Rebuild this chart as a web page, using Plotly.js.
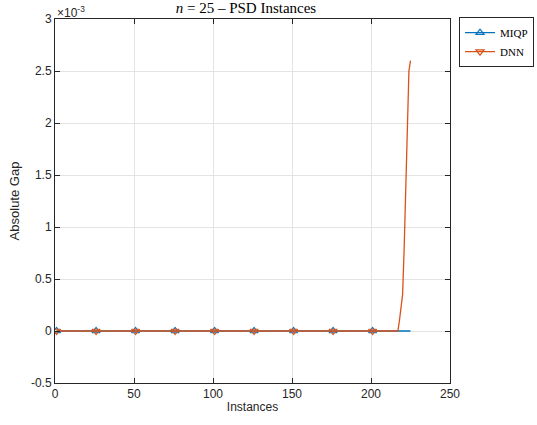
<!DOCTYPE html>
<html>
<head>
<meta charset="utf-8">
<script src="https://cdn.plot.ly/plotly-3.0.1.min.js"></script>
<style>html,body{margin:0;padding:0;background:#fff;}#chart{width:537px;height:425px;}</style>
</head>
<body>
<div id="chart"></div>
<script>
// Absolute gap per instance (sorted), n = 25 PSD instances
const seriesNames = ['MIQP', 'DNN'];
const miqpGap = [
0,0,0,0,0,0,0,0,0,0,0,0,0,0,0,0,0,0,0,0,0,0,0,0,0,
0,0,0,0,0,0,0,0,0,0,0,0,0,0,0,0,0,0,0,0,0,0,0,0,0,
0,0,0,0,0,0,0,0,0,0,0,0,0,0,0,0,0,0,0,0,0,0,0,0,0,
0,0,0,0,0,0,0,0,0,0,0,0,0,0,0,0,0,0,0,0,0,0,0,0,0,
0,0,0,0,0,0,0,0,0,0,0,0,0,0,0,0,0,0,0,0,0,0,0,0,0,
0,0,0,0,0,0,0,0,0,0,0,0,0,0,0,0,0,0,0,0,0,0,0,0,0,
0,0,0,0,0,0,0,0,0,0,0,0,0,0,0,0,0,0,0,0,0,0,0,0,0,
0,0,0,0,0,0,0,0,0,0,0,0,0,0,0,0,0,0,0,0,0,0,0,0,0,
0,0,0,0,0,0,0,0,0,0,0,0,0,0,0,0,0,0,0,0,0,0,0,0,0
];
const dnnGap = [
0,0,0,0,0,0,0,0,0,0,0,0,0,0,0,0,0,0,0,0,0,0,0,0,0,
0,0,0,0,0,0,0,0,0,0,0,0,0,0,0,0,0,0,0,0,0,0,0,0,0,
0,0,0,0,0,0,0,0,0,0,0,0,0,0,0,0,0,0,0,0,0,0,0,0,0,
0,0,0,0,0,0,0,0,0,0,0,0,0,0,0,0,0,0,0,0,0,0,0,0,0,
0,0,0,0,0,0,0,0,0,0,0,0,0,0,0,0,0,0,0,0,0,0,0,0,0,
0,0,0,0,0,0,0,0,0,0,0,0,0,0,0,0,0,0,0,0,0,0,0,0,0,
0,0,0,0,0,0,0,0,0,0,0,0,0,0,0,0,0,0,0,0,0,0,0,0,0,
0,0,0,0,0,0,0,0,0,0,0,0,0,0,0,0,0,0,0,0,0,0,0,0,0,
0,0,0,0,0,0,0,0,0,0,0,0,0,0,0,0,0,0.00010,0.00022,0.00035,0.00080,0.00140,0.00200,0.00250,0.00260
];
const yTickVals = [-0.0005, 0, 0.0005, 0.001, 0.0015, 0.002, 0.0025, 0.003];
const yTickText = ['-0.5', '0', '0.5', '1', '1.5', '2', '2.5', '3'];
const xTickVals = [0, 50, 100, 150, 200, 250];

const instances = miqpGap.map((_, i) => i + 1);
const markerEvery = 25;
const pick = (arr) => arr.filter((_, i) => i % markerEvery === 0);

const colors = ['#0072BD', '#D95319'];
const symbols = ['triangle-up-open', 'triangle-down-open'];
const allSeries = [miqpGap, dnnGap];

const traces = [];
allSeries.forEach((ys, k) => {
  traces.push({
    x: instances, y: ys, mode: 'lines', showlegend: false,
    line: {color: colors[k], width: 1.3}, hoverinfo: 'skip'
  });
  traces.push({
    x: pick(instances), y: pick(ys), mode: 'markers', showlegend: false,
    marker: {symbol: symbols[k], size: 7, color: colors[k], line: {width: 1.2, color: colors[k]}}
  });
  traces.push({
    x: [null], y: [null], mode: 'lines+markers', name: seriesNames[k],
    line: {color: colors[k], width: 1.3},
    marker: {symbol: symbols[k], size: 7, color: colors[k], line: {width: 1.2, color: colors[k]}}
  });
});

const sansFont = '"Liberation Sans", Arial, Helvetica, sans-serif';
const serifFont = '"Liberation Serif", "Times New Roman", serif';

const axisCommon = {
  showline: true, mirror: 'ticks', linecolor: '#262626', linewidth: 1,
  ticks: 'inside', ticklen: 5, tickcolor: '#262626', tickwidth: 1,
  showgrid: true, gridcolor: '#e3e3e3', gridwidth: 1, zeroline: false,
  tickfont: {family: sansFont, size: 12, color: '#262626'}
};

const layout = {
  width: 537, height: 425,
  margin: {l: 55, r: 87, t: 19, b: 42, autoexpand: false},
  paper_bgcolor: '#fff', plot_bgcolor: '#fff',
  title: {text: '<i>n</i> = 25 – PSD Instances', x: 0.458, xanchor: 'center', y: 0.993, yanchor: 'top',
          font: {family: serifFont, size: 15, color: '#000'}},
  xaxis: Object.assign({}, axisCommon, {
    range: [0, 250], tickvals: xTickVals,
    title: {text: 'Instances', standoff: 2, font: {family: sansFont, size: 12, color: '#262626'}}
  }),
  yaxis: Object.assign({}, axisCommon, {
    range: [-0.0005, 0.003], tickvals: yTickVals, ticktext: yTickText,
    title: {text: 'Absolute Gap', standoff: 8, font: {family: sansFont, size: 13, color: '#262626'}}
  }),
  legend: {
    x: 1.2127, xanchor: 'right', y: 1.005, yanchor: 'top',
    bordercolor: '#262626', borderwidth: 1, bgcolor: '#fff',
    font: {family: serifFont, size: 11, color: '#000'},
    tracegroupgap: 0, itemwidth: 30
  },
  annotations: [{
    text: '×10<sup>-3</sup>', xref: 'paper', yref: 'paper', x: 0, y: 1, xanchor: 'left', yanchor: 'bottom',
    showarrow: false, font: {family: sansFont, size: 12, color: '#262626'}, yshift: -3
  }]
};

Plotly.newPlot('chart', traces, layout, {displayModeBar: false, staticPlot: true});
</script>
</body>
</html>
